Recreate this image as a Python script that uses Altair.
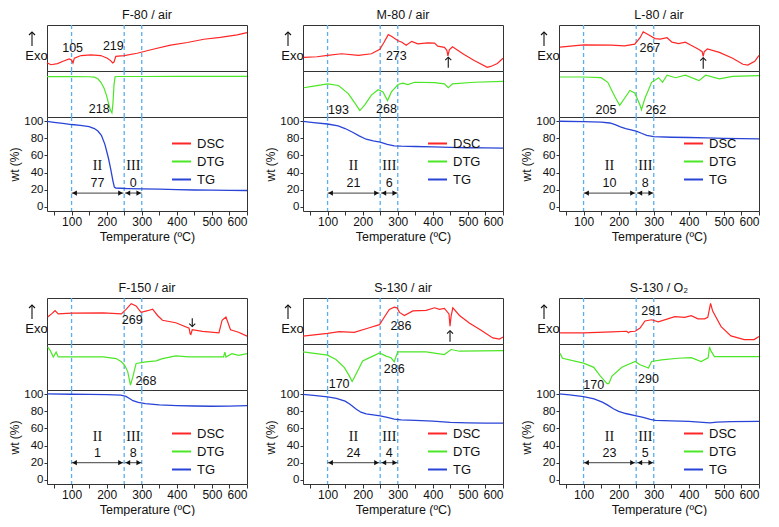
import altair as alt
import pandas as pd

FONT = "Liberation Sans"
SERIF = "Liberation Serif"
RED = "#ff2626"
GREEN = "#4be626"
BLUE = "#2844d6"
DASH = "#5aaef0"
INK = "#111111"

# ---------------- data ----------------
TITLES = ["F-80 / air", "M-80 / air", "L-80 / air", "F-150 / air", "S-130 / air", "S-130 / O₂"]
STAGE_II = [77, 21, 10, 1, 24, 23]
STAGE_III = [0, 6, 8, 8, 4, 5]
VLINES = [100, 250, 300]
SERIES = ["DSC", "DTG", "TG"]

# F-80
F80_DSC_T = [30, 41, 60, 74, 93, 100, 104, 108, 127, 155, 183, 202, 212, 217, 221, 226, 250, 287, 335, 382, 430, 477, 524, 572, 600]
F80_DSC_V = [18, 13.6, 16, 20.7, 26.4, 24, 17.5, 27.9, 33.6, 35, 33.6, 27.9, 22, 17.5, 19.5, 32, 33.6, 38.6, 47.9, 56.4, 62, 69, 73, 78.6, 83.6]
F80_DTG_T = [30, 100, 150, 165, 175, 184, 193, 200, 206, 211, 215, 218, 221, 224, 230, 300, 400, 500, 600]
F80_DTG_V = [87.8, 87.8, 87.5, 86.5, 83, 75, 62, 46, 28, 14, 9, 30, 70, 87.5, 88, 88, 88.2, 88.3, 88.5]
F80_TG_T = [30, 50, 75, 100, 125, 150, 165, 175, 185, 195, 205, 212, 218, 222, 226, 240, 260, 300, 350, 400, 450, 500, 550, 600]
F80_TG_V = [100, 98.8, 97.5, 96.2, 95.2, 93.8, 91.5, 88.5, 83.5, 73, 57, 43, 30, 23, 21.8, 21.6, 21.3, 21, 20.5, 20, 19.6, 19.4, 19.2, 19]

# M-80
M80_DSC_T = [32, 70, 100, 140, 188, 225, 249, 261, 273, 282, 301, 312, 324, 340, 357, 385, 405, 414, 433, 440, 443, 447, 456, 489, 518, 555, 565, 584, 600]
M80_DSC_V = [29.6, 31, 34, 37.5, 34, 37.5, 47.4, 62.5, 79, 75.7, 65.8, 62.5, 55.9, 64.5, 59, 61, 60.5, 54, 51.3, 45, 33, 46, 52.6, 36, 23, 7.9, 9.9, 16.4, 27.6]
M80_DTG_T = [32, 56, 100, 131, 159, 178, 192, 206, 225, 244, 258, 271, 282, 301, 315, 329, 348, 405, 433, 444, 456, 518, 600]
M80_DTG_V = [63.6, 66.4, 72, 68.5, 51, 30, 14, 26.6, 47.6, 59.4, 54.5, 35.7, 54.5, 70.6, 73.4, 70.6, 75.5, 74.8, 72, 63.6, 72, 75.5, 77.6]
M80_TG_T = [30, 60, 100, 130, 150, 170, 190, 210, 230, 250, 270, 290, 310, 350, 400, 450, 500, 550, 600]
M80_TG_V = [100, 98.5, 96.8, 94.5, 91.5, 87.5, 83, 79, 77, 75.5, 73, 71.2, 70.8, 70.5, 70, 69.5, 69, 68.8, 68.6]

# L-80
L80_DSC_T = [33, 100, 179, 217, 246, 261, 270, 285, 304, 318, 338, 352, 371, 390, 405, 429, 438, 441, 444, 453, 487, 525, 554, 568, 588, 600]
L80_DSC_V = [52, 57, 56.4, 54.5, 58.3, 72.4, 85.3, 78.8, 70.5, 69.2, 72.4, 62.8, 59.6, 62.8, 56.4, 46.8, 42, 32, 42, 48, 40.4, 27.6, 14.7, 12.8, 21, 34]
L80_DTG_T = [33, 100, 150, 169, 189, 203, 217, 232, 246, 261, 265, 275, 294, 314, 325, 338, 362, 390, 429, 448, 487, 525, 600]
L80_DTG_V = [87, 87, 85.4, 75.4, 44.6, 25.4, 40.8, 57.7, 52.3, 25.4, 16, 40.8, 75.4, 85.4, 75.4, 90.8, 85.4, 90.8, 79, 90.8, 83, 88.5, 90]
L80_TG_T = [30, 100, 150, 175, 190, 205, 220, 235, 250, 265, 280, 300, 350, 400, 450, 500, 550, 600]
L80_TG_V = [100, 99.5, 99, 98, 96, 93.5, 91.5, 90, 88.5, 86, 83.5, 82, 81.3, 81, 80.5, 80, 79.6, 79.4]

# F-150
F150_DSC_T = [32, 43, 53, 62, 100, 190, 242, 256, 270, 284, 298, 317, 331, 345, 359, 397, 435, 438, 440, 444, 473, 520, 529, 540, 553, 576, 600]
F150_DSC_V = [58.6, 65.5, 72.4, 65.5, 67, 67.6, 65.5, 75.9, 87.6, 82.8, 69, 72.4, 75.9, 62, 51.7, 46.2, 34.5, 22, 20.7, 31, 27.6, 24, 51.7, 58.6, 31, 25.5, 17.2]
F150_DTG_T = [32, 39, 48, 56, 62, 100, 190, 227, 242, 251, 260, 268, 275, 284, 312, 341, 359, 397, 435, 473, 529, 533, 537, 540, 557, 576, 600]
F150_DTG_V = [93, 86, 71.8, 82.4, 71.8, 71.8, 71.8, 68.3, 61.3, 54.2, 40, 10.6, 29.6, 57.7, 61.3, 63.4, 68.3, 74, 71.8, 71.8, 71.8, 72, 82.4, 71.8, 78.9, 75.4, 78.9]
F150_TG_T = [30, 100, 150, 200, 240, 255, 265, 275, 290, 310, 350, 400, 450, 500, 550, 600]
F150_TG_V = [100.5, 100, 99.8, 99.5, 99, 97.5, 95, 92.5, 90.5, 89, 87.5, 86.7, 86.3, 86, 86.2, 86.7]

# S-130 / air
S130A_DSC_T = [30, 100, 133, 176, 219, 248, 262, 276, 290, 298, 305, 319, 343, 381, 405, 419, 433, 446, 449, 452, 457, 476, 505, 533, 571, 590, 600]
S130A_DSC_V = [17.3, 23.3, 26.7, 25.3, 35.3, 42, 58.7, 75.3, 80, 78.7, 68.7, 62, 72, 73.3, 78.7, 75.3, 77.3, 65.3, 38.7, 60, 78.7, 62, 45.3, 32, 13.3, 10.7, 15.3]
S130A_DTG_T = [30, 100, 124, 148, 162, 170, 181, 200, 229, 248, 267, 281, 290, 300, 381, 433, 452, 476, 600]
S130A_DTG_V = [82.9, 75.7, 66.4, 48.6, 30.7, 18.6, 34.3, 62.9, 73.6, 80.7, 73.6, 70, 61.4, 82.9, 82.9, 77, 88, 84.3, 85.7]
S130A_TG_T = [30, 60, 100, 125, 150, 165, 180, 195, 210, 230, 250, 270, 290, 310, 350, 400, 450, 500, 550, 600]
S130A_TG_V = [100, 98.8, 97, 95.2, 92, 88, 83, 79, 77, 75.8, 74.7, 73, 71, 70, 69.5, 68.5, 67, 66.5, 66.3, 66.2]

# S-130 / O2
S130O_DSC_T = [33, 100, 181, 223, 228, 233, 247, 261, 275, 294, 313, 360, 388, 407, 426, 445, 454, 462, 468, 492, 520, 558, 586, 600]
S130O_DSC_V = [24.3, 24.3, 26.4, 27.7, 24.3, 27, 27.7, 34.5, 50, 52.7, 48, 59.5, 58, 61.5, 54.7, 54.7, 58, 88.5, 71.6, 37.8, 17.6, 9.5, 9.5, 16.2]
S130O_DTG_T = [33, 40, 100, 129, 148, 167, 172, 181, 209, 247, 261, 285, 294, 322, 369, 407, 435, 455, 459, 463, 473, 600]
S130O_DTG_V = [79.6, 69, 58.5, 49.3, 30.3, 14, 14, 30.3, 49.3, 62, 55, 47.9, 62, 65.5, 69, 70.4, 62, 70, 93.7, 85, 72.5, 72.5]
S130O_TG_T = [30, 60, 100, 130, 155, 170, 185, 200, 220, 250, 270, 290, 305, 350, 400, 440, 460, 480, 520, 600]
S130O_TG_V = [100.5, 99.3, 97.2, 94.5, 90.5, 87, 83, 80, 77.5, 74.7, 73, 70.5, 69.5, 68.8, 68.2, 67.2, 66.5, 67.5, 68, 68.2]

# peak annotations: (temperature, level, text)
DSC_NOTES = [
    [(103, 49, "105"), (219, 54, "219")],
    [(296, 32, "273")],
    [(289, 50, "267")],
    [(273, 52, "269")],
    [(309, 40, "286")],
    [(294, 72, "291")],
]
DTG_NOTES = [
    [(179, 17, "218")],
    [(131, 15, "193"), (268, 17, "268")],
    [(164, 16, "205"), (306, 16, "262")],
    [(312, 19, "268")],
    [(133, 14, "170"), (290, 45, "286")],
    [(129, 11, "170"), (285, 23, "290")],
]
# small arrows in the DSC traces: (temperature, tail level, tip level)
DSC_ARROWS = [[], [(444, 7, 30)], [(441, 5, 29)], [(444, 56, 38)], [(449, 5, 29)], []]

# ---------------- layout / style ----------------
W = 200
H_DSC = 46
H_DTG = 46
H_TG = 94
XS = alt.Scale(domain=[30, 600], nice=False, zero=False)
NS = alt.Scale(domain=[0, 100], nice=False, zero=False)
TGS = alt.Scale(domain=[-5, 105], nice=False, zero=False)
CHEVRON_UP = "M-1,1L0,0L1,1"
CHEVRON_DOWN = "M-1,-1L0,0L1,-1"

DSC_YAXIS = alt.Axis(title="Exo", titleAngle=0, titleX=-11, titleY=30,
                     titleAlign="center", titleBaseline="middle", labels=False,
                     ticks=False, domain=False, grid=False, titleFontSize=13,
                     titleFontWeight="normal", titleColor=INK)
TG_XAXIS = alt.Axis(title="Temperature (ºC)", values=list(range(50, 601, 50)),
                    labelExpr="datum.value % 100 == 0 ? datum.label : ''",
                    tickSize=4, tickColor="#333", labelFontSize=12, labelPadding=1,
                    titlePadding=3, titleFontSize=12.5, titleFontWeight="normal",
                    domain=False, grid=False, labelColor=INK, titleColor=INK)
TG_YAXIS = alt.Axis(title="wt (%)", values=[0, 20, 40, 60, 80, 100], tickSize=3,
                    tickColor="#333", labelFontSize=11.5, labelPadding=1, titlePadding=2,
                    titleFontSize=12, titleFontWeight="normal", domain=False, grid=False,
                    labelColor=INK, titleColor=INK)


def vrules():
    return alt.Chart(pd.DataFrame({"t": VLINES})).mark_rule(
        color=DASH, strokeDash=[4, 3], strokeWidth=1.3
    ).encode(x=alt.X("t:Q", scale=XS, axis=None))


def notes_layer(notes, yscale, yaxis, size=12.5, font=FONT):
    df = pd.DataFrame(notes, columns=["t", "v", "s"])
    return alt.Chart(df).mark_text(fontSize=size, font=font, color=INK).encode(
        x=alt.X("t:Q", scale=XS, axis=None),
        y=alt.Y("v:Q", scale=yscale, axis=yaxis),
        text="s:N",
    )


def dsc_view(i, t, v):
    df = pd.DataFrame({"t": t, "v": v})
    X = alt.X("t:Q", scale=XS, axis=None)
    line = alt.Chart(df).mark_line(color=RED, strokeWidth=1.2).encode(
        x=X, y=alt.Y("v:Q", scale=NS, axis=DSC_YAXIS))
    # "Exo" arrow beside the DSC frame
    exo_stem = alt.Chart(pd.DataFrame({"s": ["exo"]})).mark_rule(
        color=INK, strokeWidth=1.1).encode(x=alt.value(-15), y=alt.value(7), y2=alt.value(21))
    exo_head = alt.Chart(pd.DataFrame({"s": ["exo"]})).mark_point(
        shape=CHEVRON_UP, filled=False, size=36, strokeWidth=1.1, color=INK, opacity=1
    ).encode(x=alt.value(-15), y=alt.value(7))
    layers = [vrules(), line, notes_layer(DSC_NOTES[i], NS, DSC_YAXIS), exo_stem, exo_head]
    if DSC_ARROWS[i]:
        adf = pd.DataFrame(DSC_ARROWS[i], columns=["t", "a", "b"])
        up = adf["b"].iloc[0] > adf["a"].iloc[0]
        layers.append(alt.Chart(adf).mark_rule(color=INK, strokeWidth=1.1).encode(
            x=X, y=alt.Y("a:Q", scale=NS, axis=DSC_YAXIS), y2="b:Q"))
        layers.append(alt.Chart(adf).mark_point(
            shape=CHEVRON_UP if up else CHEVRON_DOWN, filled=False, size=36,
            strokeWidth=1.1, color=INK, opacity=1).encode(
            x=X, y=alt.Y("b:Q", scale=NS, axis=DSC_YAXIS)))
    return alt.layer(*layers).properties(
        width=W, height=H_DSC,
        title=alt.TitleParams(TITLES[i], fontSize=12.5, fontWeight="normal", offset=3,
                              frame="group", anchor="middle", color=INK),
    )


def dtg_view(i, t, v):
    df = pd.DataFrame({"t": t, "v": v})
    line = alt.Chart(df).mark_line(color=GREEN, strokeWidth=1.2).encode(
        x=alt.X("t:Q", scale=XS, axis=None),
        y=alt.Y("v:Q", scale=NS, axis=None),
    )
    return alt.layer(vrules(), line, notes_layer(DTG_NOTES[i], NS, None)).properties(
        width=W, height=H_DTG)


def tg_view(i, t, v, arrow_y, roman_y, num_y, legend_y):
    df = pd.DataFrame({"t": t, "v": v, "s": "TG"})
    X = alt.X("t:Q", scale=XS, axis=TG_XAXIS)
    line = alt.Chart(df).mark_line(strokeWidth=1.3).encode(
        x=X,
        y=alt.Y("v:Q", scale=TGS, axis=TG_YAXIS),
        color=alt.Color("s:N", scale=alt.Scale(domain=SERIES, range=[RED, GREEN, BLUE]),
                        legend=alt.Legend(orient="none", legendX=124, legendY=legend_y,
                                          title=None, symbolType="stroke", symbolSize=361,
                                          symbolStrokeWidth=2, labelFontSize=13,
                                          rowPadding=-1, padding=0, labelOffset=5,
                                          labelColor=INK)),
    )
    rules = alt.Chart(pd.DataFrame({"t": VLINES})).mark_rule(
        color=DASH, strokeDash=[4, 3], strokeWidth=1.3
    ).encode(x=alt.X("t:Q", scale=XS, axis=TG_XAXIS))
    arr = pd.DataFrame({"a": [100, 252], "b": [248, 300], "y": [arrow_y, arrow_y]})
    arr_rule = alt.Chart(arr).mark_rule(color="#666", strokeWidth=1.2).encode(
        x=alt.X("a:Q", scale=XS, axis=TG_XAXIS), x2="b:Q",
        y=alt.Y("y:Q", scale=TGS, axis=TG_YAXIS))
    head_l = alt.Chart(arr).mark_point(shape="triangle-left", filled=True, size=28,
                                       color=INK, opacity=1, xOffset=3).encode(
        x=alt.X("a:Q", scale=XS, axis=TG_XAXIS), y=alt.Y("y:Q", scale=TGS, axis=TG_YAXIS))
    head_r = alt.Chart(arr).mark_point(shape="triangle-right", filled=True, size=28,
                                       color=INK, opacity=1, xOffset=-3).encode(
        x=alt.X("b:Q", scale=XS, axis=TG_XAXIS), y=alt.Y("y:Q", scale=TGS, axis=TG_YAXIS))
    roman = pd.DataFrame({"t": [174, 276], "v": [roman_y, roman_y], "s": ["II", "III"]})
    nums = pd.DataFrame({"t": [174, 276], "v": [num_y, num_y],
                         "s": [str(STAGE_II[i]), str(STAGE_III[i])]})
    roman_l = alt.Chart(roman).mark_text(fontSize=14, font=SERIF, color=INK).encode(
        x=alt.X("t:Q", scale=XS, axis=TG_XAXIS), y=alt.Y("v:Q", scale=TGS, axis=TG_YAXIS),
        text="s:N")
    nums_l = alt.Chart(nums).mark_text(fontSize=12.5, font=FONT, color=INK).encode(
        x=alt.X("t:Q", scale=XS, axis=TG_XAXIS), y=alt.Y("v:Q", scale=TGS, axis=TG_YAXIS),
        text="s:N")
    return alt.layer(rules, arr_rule, head_l, head_r, roman_l, nums_l, line).properties(
        width=W, height=H_TG)


CURVES = [
    (F80_DSC_T, F80_DSC_V, F80_DTG_T, F80_DTG_V, F80_TG_T, F80_TG_V),
    (M80_DSC_T, M80_DSC_V, M80_DTG_T, M80_DTG_V, M80_TG_T, M80_TG_V),
    (L80_DSC_T, L80_DSC_V, L80_DTG_T, L80_DTG_V, L80_TG_T, L80_TG_V),
    (F150_DSC_T, F150_DSC_V, F150_DTG_T, F150_DTG_V, F150_TG_T, F150_TG_V),
    (S130A_DSC_T, S130A_DSC_V, S130A_DTG_T, S130A_DTG_V, S130A_TG_T, S130A_TG_V),
    (S130O_DSC_T, S130O_DSC_V, S130O_DTG_T, S130O_DTG_V, S130O_TG_T, S130O_TG_V),
]


def panel(i):
    dt, dv, gt, gv, tt, tv = CURVES[i]
    if i < 3:
        ay, ry, ny, ly = 16, 48, 28, 16
    else:
        ay, ry, ny, ly = 20, 50, 31, 33
    return alt.vconcat(
        dsc_view(i, dt, dv), dtg_view(i, gt, gv), tg_view(i, tt, tv, ay, ry, ny, ly),
        spacing=0, bounds="flush",
    ).resolve_scale(color="independent")


row1 = alt.hconcat(panel(0), panel(1), panel(2), spacing=13).resolve_scale(color="independent")
row2 = alt.hconcat(panel(3), panel(4), panel(5), spacing=13).resolve_scale(color="independent")

chart = alt.vconcat(row1, row2, spacing=38).resolve_scale(color="independent").properties(
    padding=0
).configure(font=FONT).configure_view(stroke="#333", strokeWidth=1)

chart.save("out.html", embed_options={"renderer": "svg", "actions": False})
